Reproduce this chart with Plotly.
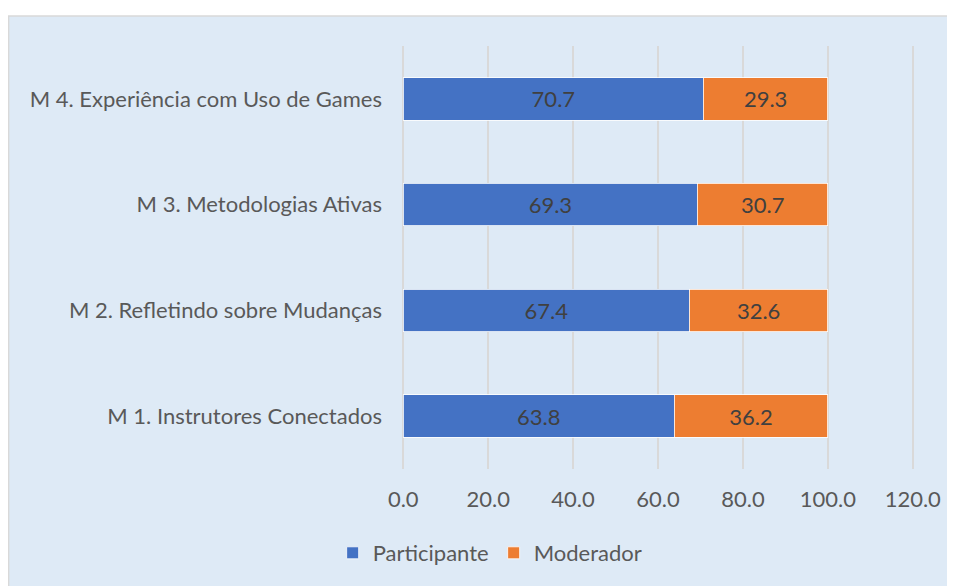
import plotly.graph_objects as go

categories = ["M 1. Instrutores Conectados", "M 2. Refletindo sobre Mudanças",
              "M 3. Metodologias Ativas", "M 4. Experiência com Uso de Games"]
participante = [63.8, 67.4, 69.3, 70.7]
moderador = [36.2, 32.6, 30.7, 29.3]
x_ticks = [0, 20, 40, 60, 80, 100, 120]
x_tick_labels = ["0.0", "20.0", "40.0", "60.0", "80.0", "100.0", "120.0"]

FONT = "Lato"
TXT = "#595959"
FS = 22

fig = go.Figure()
fig.add_trace(go.Bar(
    y=categories, x=participante, orientation="h", name="Participante",
    marker=dict(color="#4472C4", line=dict(color="#FFFFFF", width=0.8)),
    text=[f"{v:.1f}" for v in participante], textposition="inside",
    insidetextanchor="middle", textfont=dict(color="#404040", size=FS, family=FONT),
))
fig.add_trace(go.Bar(
    y=categories, x=moderador, orientation="h", name="Moderador",
    marker=dict(color="#ED7D31", line=dict(color="#FFFFFF", width=0.8)),
    text=[f"{v:.1f}" for v in moderador], textposition="inside",
    insidetextanchor="middle", textfont=dict(color="#404040", size=FS, family=FONT),
))

# page has 8px body margin; figure coords = page coords - 8
OFF = 8
PAD = 1.0                      # axis units of padding so edge gridlines are drawn
PXU = (913 - 403) / 120.0      # pixels per unit
W, H = 955 - OFF, 586 - OFF
L = (403 - OFF) - PAD * PXU
R = W - ((913 - OFF) + PAD * PXU)
T = 46 - OFF
B = H - (469 - OFF)
pw, ph = W - L - R, H - T - B

fig.add_shape(type="rect", xref="paper", yref="paper",
              x0=(8 - OFF - L) / pw, x1=(W + 10 - L) / pw,
              y0=-(H + 10 - (H - B)) / ph, y1=1 + (T - (16 - OFF)) / ph,
              fillcolor="#DEEAF6", line=dict(color="#D9D9D9", width=1.5), layer="below")

fig.update_layout(
    width=W, height=H,
    margin=dict(l=L, r=R, t=T, b=B, pad=0),
    paper_bgcolor="#FFFFFF", plot_bgcolor="rgba(0,0,0,0)",
    barmode="stack", bargap=0.6,
    font=dict(family=FONT, size=FS, color=TXT),
    xaxis=dict(range=[-PAD, 120 + PAD], tickvals=x_ticks, ticktext=x_tick_labels,
               showgrid=True, gridcolor="#D9D9D9", gridwidth=1.5,
               zeroline=False, showline=False, ticks="",
               ticklabelstandoff=15, tickfont=dict(size=FS, color=TXT, family=FONT)),
    yaxis=dict(showgrid=False, zeroline=False, showline=False, ticks="",
               ticklabelstandoff=16,
               tickfont=dict(size=FS, color=TXT, family=FONT)),
    legend=dict(orientation="h", x=(490 - OFF - L) / pw, xanchor="center",
                y=-(553 - 469) / ph, yanchor="middle",
                font=dict(size=FS, color=TXT, family=FONT),
                bgcolor="rgba(0,0,0,0)", traceorder="normal", itemwidth=30),
    showlegend=True,
)

fig.write_html("out.html")
